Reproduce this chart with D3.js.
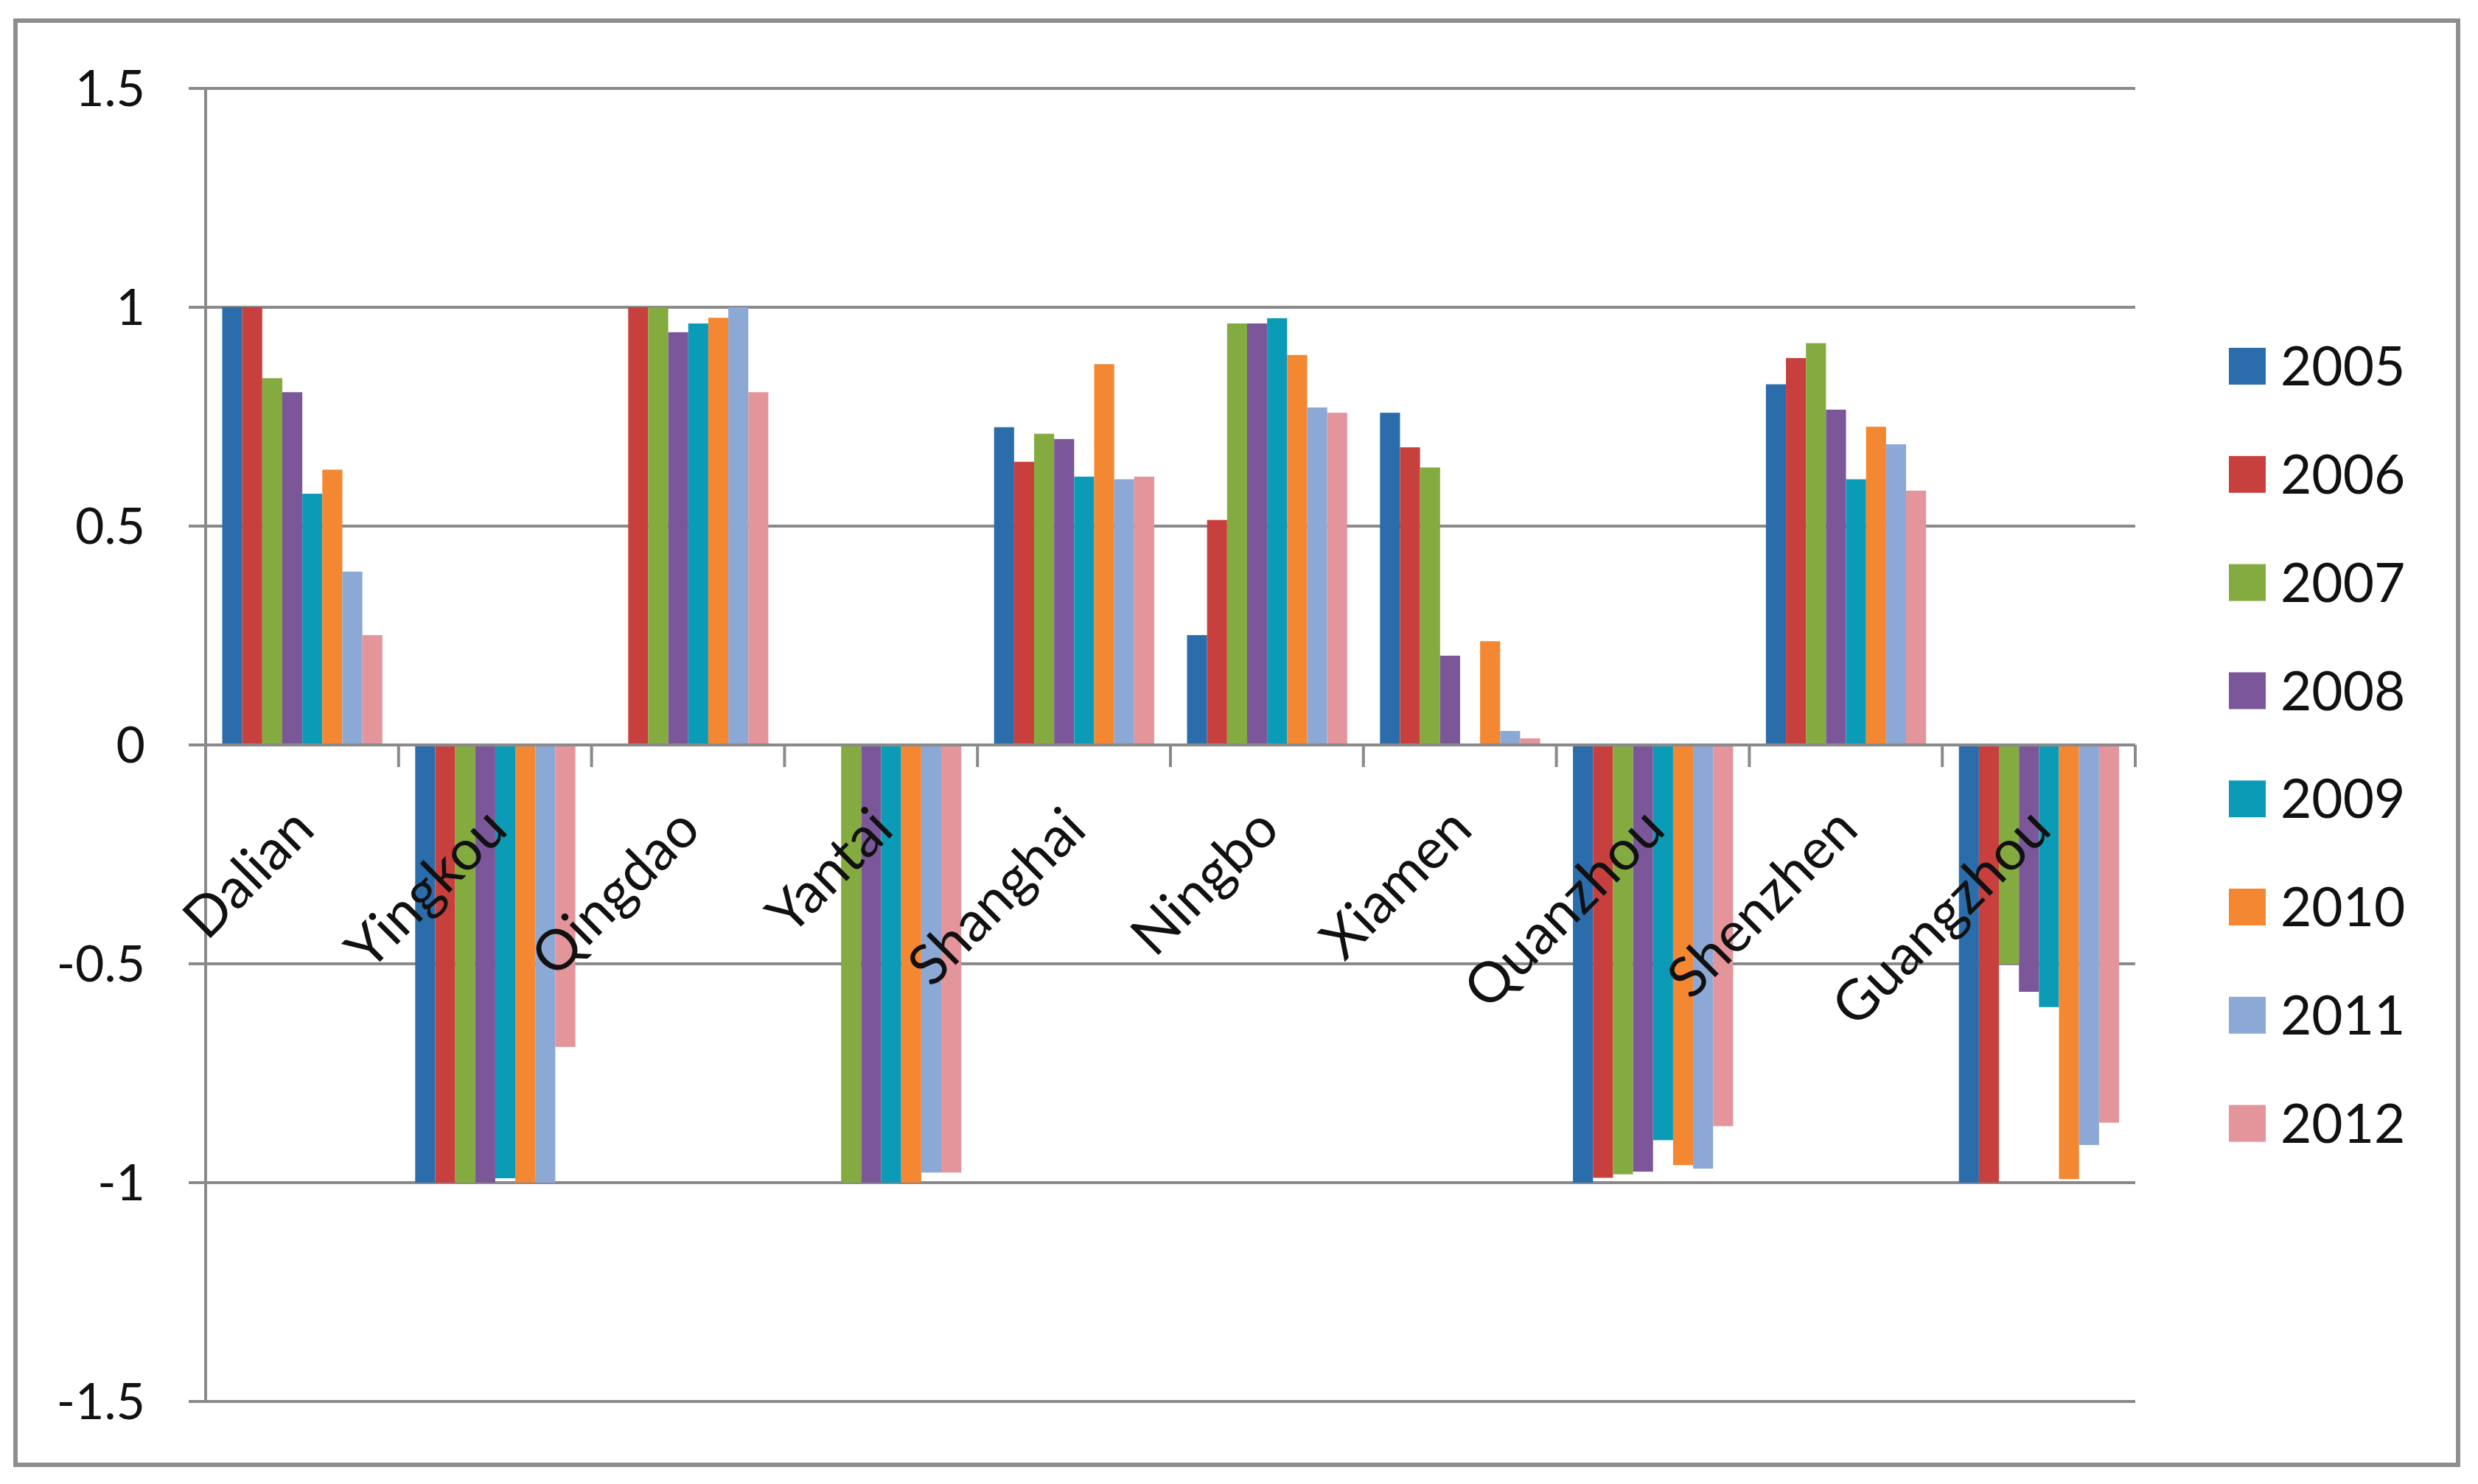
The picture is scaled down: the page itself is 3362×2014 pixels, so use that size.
<!DOCTYPE html>
<html>
<head>
<meta charset="utf-8">
<script src="https://cdnjs.cloudflare.com/ajax/libs/d3/7.8.5/d3.min.js"></script>
<style>
	html, body { margin: 0; padding: 0; background: #fff; }
	svg { display: block; }
	text { font-family: Lato, "Open Sans", sans-serif; fill: #111; }
</style>
</head>
<body>
<div id="chart"></div>
<script>
var cities = ["Dalian", "Yingkou", "Qingdao", "Yantai", "Shanghai", "Ningbo", "Xiamen", "Quanzhou", "Shenzhen", "Guangzhou"];
var years = ["2005", "2006", "2007", "2008", "2009", "2010", "2011", "2012"];

// one array per year, values in city order
var v2005 = [1, -1, 0, 0, 0.726, 0.251, 0.759, -1, 0.824, -1];
var v2006 = [1, -1, 1, 0, 0.647, 0.514, 0.680, -0.989, 0.884, -1];
var v2007 = [0.838, -1, 1, -1, 0.711, 0.963, 0.634, -0.981, 0.918, -0.50];
var v2008 = [0.806, -1, 0.943, -1, 0.699, 0.963, 0.204, -0.975, 0.766, -0.564];
var v2009 = [0.574, -0.99, 0.963, -1, 0.613, 0.975, 0, -0.903, 0.607, -0.599];
var v2010 = [0.629, -1, 0.976, -1, 0.870, 0.891, 0.237, -0.960, 0.727, -0.992];
var v2011 = [0.396, -1, 1, -0.977, 0.607, 0.771, 0.032, -0.968, 0.687, -0.914];
var v2012 = [0.251, -0.69, 0.806, -0.977, 0.613, 0.759, 0.015, -0.871, 0.581, -0.863];

var yTicks = [1.5, 1, 0.5, 0, -0.5, -1, -1.5];
var yTickLabels = ["1.5", "1", "0.5", "0", "-0.5", "-1", "-1.5"];

var colours = ["#2b6cab", "#c8403e", "#83ab3f", "#7b5799", "#0c9bb6", "#f48731", "#8ca9d6", "#e3959b"];

var series = [v2005, v2006, v2007, v2008, v2009, v2010, v2011, v2012];

var width = 3362, height = 2014;
var plot = { left: 279, right: 2897, top: 120, bottom: 1902 };

var svg = d3.select("#chart").append("svg")
	.attr("width", width)
	.attr("height", height);

svg.append("rect")
	.attr("x", 0).attr("y", 0)
	.attr("width", width).attr("height", height)
	.attr("fill", "#fff");

// chart border
svg.append("rect")
	.attr("x", 21)
	.attr("y", 28)
	.attr("width", 3314)
	.attr("height", 1960)
	.attr("fill", "#fff")
	.attr("stroke", "#8e8e8e")
	.attr("stroke-width", 6);

var x0 = d3.scaleBand()
	.domain(cities)
	.range([plot.left, plot.right])
	.paddingInner(0)
	.paddingOuter(0);

var x1 = d3.scaleBand()
	.domain(years)
	.range([22.5, x0.bandwidth() - 22])
	.padding(0);

var y = d3.scaleLinear()
	.domain([-1.5, 1.5])
	.range([plot.bottom, plot.top]);

var colour = d3.scaleOrdinal()
	.domain(years)
	.range(colours);

// gridlines
svg.append("g")
	.attr("class", "grid")
	.selectAll("line")
	.data(yTicks)
	.enter()
  .append("line")
	.attr("x1", plot.left - 23)
	.attr("x2", plot.right)
	.attr("y1", function (d) { return y(d); })
	.attr("y2", function (d) { return y(d); })
	.attr("stroke", "#8a8a8a")
	.attr("stroke-width", 4);

// y tick labels
svg.append("g")
	.attr("class", "yLabels")
	.selectAll("text")
	.data(yTicks)
	.enter()
  .append("text")
	.attr("x", 197)
	.attr("y", function (d) { return y(d); })
	.attr("dy", "0.36em")
	.attr("text-anchor", "end")
	.style("font-size", "68px")
	.text(function (d, i) { return yTickLabels[i]; });

// bars
var rows = cities.map(function (c, ci) {
	return { city: c, values: years.map(function (yr, yi) { return { year: yr, value: series[yi][ci] }; }) };
});

var groups = svg.append("g")
	.attr("class", "bars")
	.selectAll("g")
	.data(rows)
	.enter()
  .append("g")
	.attr("transform", function (d) { return "translate(" + x0(d.city) + ",0)"; });

groups.selectAll("rect")
	.data(function (d) { return d.values; })
	.enter()
  .append("rect")
	.attr("x", function (d) { return x1(d.year); })
	.attr("width", x1.bandwidth())
	.attr("y", function (d) { return y(Math.max(0, d.value)); })
	.attr("height", function (d) { return Math.abs(y(d.value) - y(0)); })
	.attr("fill", function (d) { return colour(d.year); });

// axes
svg.append("line")
	.attr("x1", plot.left).attr("x2", plot.left)
	.attr("y1", plot.top).attr("y2", plot.bottom)
	.attr("stroke", "#8a8a8a")
	.attr("stroke-width", 4);

svg.append("line")
	.attr("x1", plot.left).attr("x2", plot.right)
	.attr("y1", y(0)).attr("y2", y(0))
	.attr("stroke", "#8a8a8a")
	.attr("stroke-width", 4);

svg.append("g")
	.attr("class", "xTicks")
	.selectAll("line")
	.data(cities)
	.enter()
  .append("line")
	.attr("x1", function (d) { return x0(d) + x0.bandwidth(); })
	.attr("x2", function (d) { return x0(d) + x0.bandwidth(); })
	.attr("y1", y(0))
	.attr("y2", y(0) + 30)
	.attr("stroke", "#8a8a8a")
	.attr("stroke-width", 4);

// category labels, rotated
svg.append("g")
	.attr("class", "xLabels")
	.selectAll("text")
	.data(cities)
	.enter()
  .append("text")
	.attr("transform", function (d) {
		var cx = x0(d) + x0.bandwidth() / 2 + 20;
		return "translate(" + cx + "," + (y(0) + 118) + ") rotate(-45)";
	})
	.attr("text-anchor", "end")
	.style("font-size", "76px")
	.text(function (d) { return d; });

// legend
var legend = svg.append("g")
	.attr("class", "legend")
	.selectAll("g")
	.data(years)
	.enter()
  .append("g")
	.attr("transform", function (d, i) { return "translate(3024," + (497 + i * 146.8) + ")"; });

legend.append("rect")
	.attr("x", 0)
	.attr("y", -25)
	.attr("width", 50)
	.attr("height", 50)
	.attr("fill", function (d) { return colour(d); });

legend.append("text")
	.attr("x", 70)
	.attr("y", 0)
	.attr("dy", "0.36em")
	.style("font-size", "73px")
	.text(function (d) { return d; });
</script>
</body>
</html>
